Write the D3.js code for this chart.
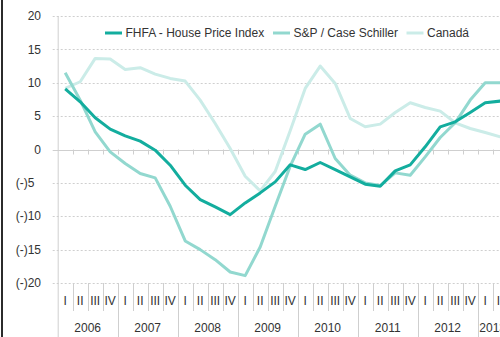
<!DOCTYPE html>
<html>
<head>
<meta charset="utf-8">
<script src="https://cdn.jsdelivr.net/npm/d3@7/dist/d3.min.js"></script>
<style>
  html, body { margin: 0; padding: 0; background: #fff; overflow: hidden; }
  svg { display: block; font-family: "Liberation Sans", Arial, sans-serif; }
</style>
</head>
<body>
<svg id="chart" width="500" height="337"></svg>
<script>
// Year-on-year house price change (%), quarterly 2006 Q1 – 2013 Q2
const years = ["2006", "2007", "2008", "2009", "2010", "2011", "2012", "2013"];
const quarterNames = ["I", "II", "III", "IV"];
const quartersPerYear = [4, 4, 4, 4, 4, 4, 4, 2];

const fhfa = [9.1, 7.15, 4.75, 3.05, 2.05, 1.25, -0.1, -2.35,
  -5.35, -7.5, -8.6, -9.75, -8.0, -6.5, -4.85, -2.3,
  -3.0, -1.95, -3.0, -4.1, -5.2, -5.5, -3.2, -2.3,
  0.4, 3.4, 4.15, 5.55, 7.0, 7.25];
const caseShiller = [11.5, 7.4, 2.65, -0.35, -2.1, -3.6, -4.25, -8.5,
  -13.7, -15.0, -16.5, -18.35, -18.9, -14.6, -8.5, -2.5,
  2.3, 3.8, -1.35, -3.85, -5.0, -5.4, -3.5, -3.85,
  -1.1, 1.8, 4.0, 7.4, 10.0, 10.0];
const canada = [9.15, 10.15, 13.65, 13.55, 12.0, 12.25, 11.3, 10.65,
  10.25, 7.4, 3.9, 0.15, -4.0, -6.2, -3.3, 2.8,
  9.15, 12.5, 9.9, 4.65, 3.4, 3.8, 5.55, 7.0,
  6.3, 5.75, 4.0, 3.15, 2.55, 1.9];

const yTicks = [-20, -15, -10, -5, 0, 5, 10, 15, 20];
const yTickLabels = ["(-)20", "(-)15", "(-)10", "(-)5\u2007", "0", "5", "10", "15", "20"];

const seriesNames = ["FHFA - House Price Index", "S&P / Case Schiller", "Canadá"];
const seriesColors = ["#13ad9e", "#92d8cf", "#cbece8"];

// quarter ids like "2006-I"
const quarters = [];
years.forEach((yr, yi) => {
  for (let q = 0; q < quartersPerYear[yi]; q++) quarters.push({ year: yr, q: quarterNames[q], id: yr + "-" + quarterNames[q] });
});

const svg = d3.select("#chart");
const plotLeft = 57.7, plotRight = 507.7, plotTop = 16, plotBottom = 283;

const x = d3.scaleBand().domain(quarters.map(d => d.id)).range([plotLeft, plotRight]).padding(0);
const y = d3.scaleLinear().domain([-20, 20]).range([plotBottom, plotTop]);
const grid = "#cfcfcf";
const textColor = "#333";

// frame edge on the left
svg.append("rect").attr("x", 1).attr("y", 0).attr("width", 2).attr("height", 337).attr("fill", "#2b2b2b");

// horizontal gridlines
svg.append("g").selectAll("line").data(yTicks).join("line")
  .attr("x1", plotLeft - 5).attr("x2", plotRight)
  .attr("y1", d => Math.round(y(d)) + 0.5).attr("y2", d => Math.round(y(d)) + 0.5)
  .attr("stroke", grid).attr("stroke-width", 1)
  .attr("stroke-dasharray", d => d === 0 ? null : "2,2");

// y tick labels
svg.append("g").selectAll("text").data(yTicks).join("text")
  .attr("x", 41).attr("y", d => y(d)).attr("dy", "0.35em")
  .attr("text-anchor", "end").attr("font-size", 12).attr("fill", textColor)
  .text((d, i) => yTickLabels[i]);

// y axis line
svg.append("line").attr("x1", plotLeft + 0.5).attr("x2", plotLeft + 0.5).attr("y1", plotTop).attr("y2", 337)
  .attr("stroke", grid);

// quarter boundary ticks under the zero line
const boundaries = quarters.map(d => x(d.id)).slice(1);
svg.append("g").selectAll("line").data(boundaries).join("line")
  .attr("x1", d => Math.round(d) + 0.5).attr("x2", d => Math.round(d) + 0.5)
  .attr("y1", y(0)).attr("y2", y(0) + 5)
  .attr("stroke", grid);

// category axis separators: quarter dividers and taller year dividers
svg.append("g").selectAll("line").data(quarters.slice(1)).join("line")
  .attr("x1", d => Math.round(x(d.id)) + 0.5).attr("x2", d => Math.round(x(d.id)) + 0.5)
  .attr("y1", plotBottom).attr("y2", d => d.q === "I" ? 337 : 311)
  .attr("stroke", grid);

// quarter labels
svg.append("g").selectAll("text").data(quarters).join("text")
  .attr("x", d => x(d.id) + x.bandwidth() / 2).attr("y", 305)
  .attr("text-anchor", "middle").attr("font-size", 12).attr("fill", textColor)
  .text(d => d.q);

// year labels centred under their quarters
svg.append("g").selectAll("text").data(years).join("text")
  .attr("x", yr => {
    const qs = quarters.filter(q => q.year === yr);
    return (x(qs[0].id) + x(qs[qs.length - 1].id) + x.bandwidth()) / 2;
  })
  .attr("y", 332)
  .attr("text-anchor", "middle").attr("font-size", 12).attr("fill", textColor)
  .text(d => d);

// series lines (FHFA on top)
const lineGen = d3.line()
  .x((d, i) => x(quarters[i].id) + x.bandwidth() / 2)
  .y(d => y(d));
const seriesData = [fhfa, caseShiller, canada];
[2, 1, 0].forEach(k => {
  svg.append("path").datum(seriesData[k])
    .attr("d", lineGen)
    .attr("fill", "none").attr("stroke", seriesColors[k])
    .attr("stroke-width", 3).attr("stroke-linejoin", "round");
});

// legend
const legendX = [105, 273, 406.5];
const legend = svg.append("g");
seriesNames.forEach((name, k) => {
  legend.append("line")
    .attr("x1", legendX[k]).attr("x2", legendX[k] + 17)
    .attr("y1", 33).attr("y2", 33)
    .attr("stroke", seriesColors[k]).attr("stroke-width", 3);
  legend.append("text")
    .attr("x", legendX[k] + 20.5).attr("y", 33).attr("dy", "0.35em")
    .attr("font-size", 12).attr("fill", textColor)
    .text(name);
});
</script>
</body>
</html>
